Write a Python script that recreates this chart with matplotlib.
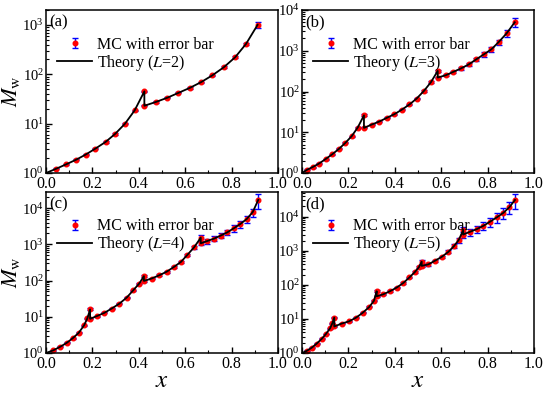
import matplotlib
matplotlib.use('Agg')
import matplotlib.pyplot as plt
import numpy as np
from matplotlib.ticker import MultipleLocator, LogLocator, NullFormatter
from matplotlib.container import ErrorbarContainer
from matplotlib.legend_handler import HandlerErrorbar

plt.rcParams['font.family'] = ['Liberation Serif', 'DejaVu Serif']
plt.rcParams['mathtext.fontset'] = 'stix'

# L = 2
xa = [0.044, 0.087, 0.130, 0.171, 0.213, 0.257, 0.298, 0.340, 0.382, 0.424, 0.424,
      0.475, 0.522, 0.571, 0.620, 0.668, 0.717, 0.766, 0.815, 0.862, 0.912]
ya = [1.22, 1.5, 1.86, 2.36, 3.12, 4.26, 6.2, 9.9, 18.5, 45, 23,
      27.6, 33.3, 42, 53, 69, 95, 138, 220, 410, 1000]
ea = [0.03, 0.03, 0.03, 0.03, 0.03, 0.03, 0.03, 0.03, 0.03, 0.04, 0.03,
      0.03, 0.03, 0.03, 0.03, 0.03, 0.03, 0.04, 0.05, 0.06, 0.12]

# L = 3
xb = [0.023, 0.046, 0.073, 0.102, 0.131, 0.159, 0.187, 0.214, 0.240, 0.267, 0.267,
      0.300, 0.333, 0.365, 0.398, 0.431, 0.463, 0.494, 0.526, 0.556, 0.585, 0.585,
      0.619, 0.652, 0.685, 0.718, 0.750, 0.783, 0.816, 0.848, 0.882, 0.917]
yb = [1.21, 1.4, 1.7, 2.2, 2.9, 3.9, 5.5, 8.0, 13, 26, 12.8,
      15.4, 18.3, 22.5, 27.7, 36, 48, 67, 104, 170, 320, 220,
      250, 303, 368, 460, 610, 810, 1080, 1640, 2670, 5000]
eb = [0.03, 0.03, 0.03, 0.03, 0.03, 0.03, 0.03, 0.03, 0.03, 0.05, 0.03,
      0.03, 0.03, 0.03, 0.03, 0.03, 0.03, 0.03, 0.04, 0.05, 0.08, 0.05,
      0.05, 0.06, 0.07, 0.08, 0.10, 0.12, 0.13, 0.15, 0.18, 0.24]

# L = 4
xc = [0.032, 0.060, 0.089, 0.115, 0.141, 0.164, 0.178, 0.190, 0.190,
      0.218, 0.251, 0.283, 0.316, 0.348, 0.376, 0.402, 0.422, 0.422,
      0.455, 0.489, 0.520, 0.552, 0.582, 0.609, 0.638, 0.667, 0.667,
      0.695, 0.724, 0.753, 0.782, 0.810, 0.836, 0.865, 0.891, 0.915]
yc = [1.19, 1.47, 1.9, 2.55, 3.6, 5.8, 9.0, 16, 8.8,
      10.4, 12.8, 16.9, 23, 34, 54, 83, 133, 98,
      114, 141, 176, 240, 330, 510, 825, 1530, 1070,
      1240, 1440, 1750, 2160, 2800, 3600, 5000, 7800, 17000]
ec = [0.03, 0.03, 0.03, 0.03, 0.03, 0.03, 0.04, 0.06, 0.04,
      0.03, 0.03, 0.03, 0.03, 0.03, 0.03, 0.04, 0.07, 0.05,
      0.05, 0.05, 0.05, 0.05, 0.06, 0.07, 0.10, 0.18, 0.12,
      0.15, 0.15, 0.15, 0.17, 0.20, 0.20, 0.22, 0.25, 0.45]

# L = 5
xd = [0.020, 0.042, 0.063, 0.085, 0.103, 0.121, 0.131, 0.139, 0.139,
      0.171, 0.203, 0.233, 0.261, 0.290, 0.310, 0.322, 0.322,
      0.351, 0.379, 0.408, 0.437, 0.463, 0.487, 0.504, 0.516, 0.516,
      0.545, 0.573, 0.602, 0.631, 0.655, 0.675, 0.695, 0.695,
      0.724, 0.753, 0.782, 0.810, 0.839, 0.868, 0.894, 0.918]
yd = [1.15, 1.43, 1.88, 2.6, 3.6, 5.3, 7.5, 11, 6.0,
      7.3, 8.5, 10.9, 15, 22.5, 34, 65, 46,
      53, 65, 83, 114, 165, 240, 330, 480, 360,
      400, 510, 660, 930, 1370, 2050, 4000, 3000,
      3600, 4300, 5400, 7100, 9500, 13000, 19000, 31000]
ed = [0.03, 0.03, 0.03, 0.03, 0.03, 0.03, 0.04, 0.06, 0.04,
      0.03, 0.03, 0.03, 0.03, 0.03, 0.04, 0.07, 0.05,
      0.05, 0.05, 0.05, 0.05, 0.05, 0.06, 0.07, 0.12, 0.08,
      0.08, 0.08, 0.09, 0.10, 0.12, 0.15, 0.28, 0.22,
      0.25, 0.25, 0.27, 0.30, 0.32, 0.35, 0.38, 0.45]

panels = [
    ('(a)', 2, xa, ya, ea, 2000),
    ('(b)', 3, xb, yb, eb, 1e4),
    ('(c)', 4, xc, yc, ec, 2.8e4),
    ('(d)', 5, xd, yd, ed, 5.3e4),
]

W, H = 545, 395
boxes = [(46, 10, 278, 173), (302, 10, 534, 173),
         (46, 192, 278, 353), (302, 192, 534, 353)]

fig = plt.figure(figsize=(W/100., H/100.), dpi=100)

for i in range(4):
    tag, L, x, y, e, ytop = panels[i]
    x0, y0, x1, y1 = boxes[i]
    ax = fig.add_axes([x0/W, 1-y1/H, (x1-x0)/W, (y1-y0)/H])
    y = np.array(y)
    yerr = np.array(e)*y
    mc = ax.errorbar(x, y, yerr=yerr, fmt='o', color='red', ms=3.3, mec='red',
                     ecolor='blue', elinewidth=1.0, capsize=2.3, capthick=1.0,
                     zorder=2, label='MC with error bar')
    th, = ax.plot([0]+list(x), [1]+list(y), '-', color='black', lw=1.3,
                  zorder=3, label='Theory ($L$=%d)' % L)
    ax.set_yscale('log')
    ax.set_xlim(0, 1)
    ax.set_ylim(1, ytop)
    ax.xaxis.set_major_locator(MultipleLocator(0.2))
    ax.xaxis.set_minor_locator(MultipleLocator(0.1))
    ax.yaxis.set_major_locator(LogLocator(base=10, numticks=10))
    ax.yaxis.set_minor_locator(LogLocator(base=10, subs=np.arange(2, 10), numticks=10))
    ax.yaxis.set_minor_formatter(NullFormatter())
    ax.tick_params(which='both', direction='in', pad=2)
    ax.tick_params(axis='x', labelsize=11.5)
    ax.tick_params(axis='y', labelsize=10.5, pad=1.5)
    ax.tick_params(which='major', length=4, width=1)
    ax.tick_params(which='minor', length=2, width=0.8)
    for s in ax.spines.values():
        s.set_linewidth(1.1)
    ax.text(0.015, 0.925, tag, transform=ax.transAxes, fontsize=12, va='center')
    ax.legend([mc, th], [mc.get_label(), th.get_label()], loc='upper left',
              bbox_to_anchor=(0.0, 0.905), frameon=False, fontsize=11.5,
              handlelength=2.2, handletextpad=0.3, labelspacing=0.0,
              numpoints=1, borderaxespad=0.3,
              handler_map={ErrorbarContainer: HandlerErrorbar(yerr_size=0.32)})
    if i % 2 == 0:
        ax.set_ylabel('$M_\\mathrm{w}$', fontsize=16)
        ax.yaxis.set_label_coords(-0.105, 0.5)
    if i >= 2:
        ax.set_xlabel('$x$', fontsize=18, labelpad=-1)

fig.savefig('out.png', dpi=100)
